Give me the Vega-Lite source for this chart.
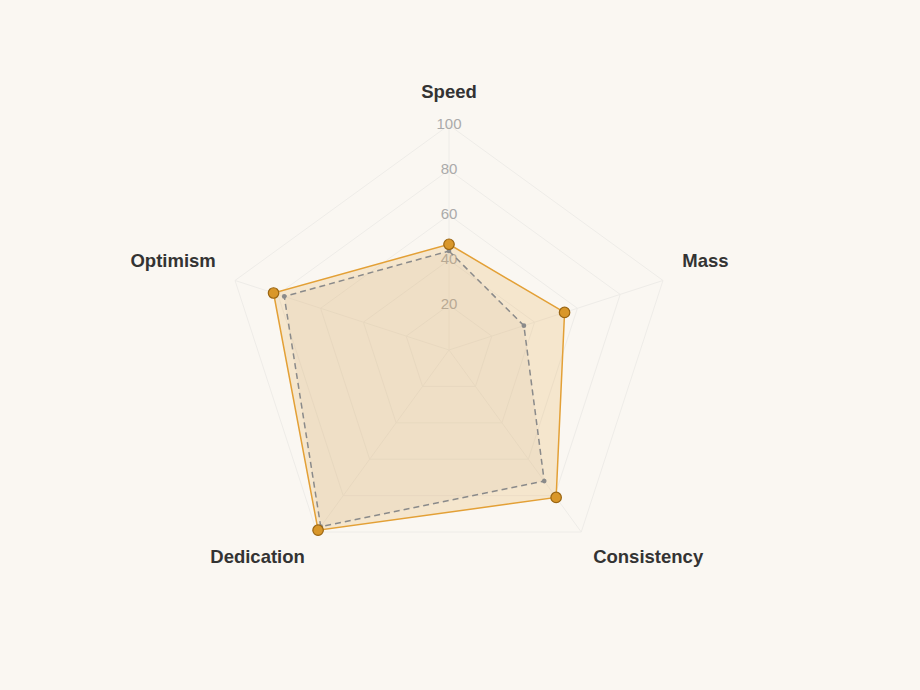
{
  "$schema": "https://vega.github.io/schema/vega-lite/v6.json",
  "width": 920,
  "height": 690,
  "autosize": "none",
  "padding": 0,
  "background": "#faf7f2",
  "config": {"view": {"stroke": null}, "font": "Liberation Sans"},
  "datasets": {
    "axes": [
      {"axis": "Speed", "order": 0},
      {"axis": "Mass", "order": 1},
      {"axis": "Consistency", "order": 2},
      {"axis": "Dedication", "order": 3},
      {"axis": "Optimism", "order": 4}
    ],
    "levels": [
      {"level": 20, "order": [0, 1, 2, 3, 4]},
      {"level": 40, "order": [0, 1, 2, 3, 4]},
      {"level": 60, "order": [0, 1, 2, 3, 4]},
      {"level": 80, "order": [0, 1, 2, 3, 4]},
      {"level": 100, "order": [0, 1, 2, 3, 4]}
    ],
    "scores": [
      {"series": "current", "axis": "Speed", "order": 0, "value": 47},
      {"series": "current", "axis": "Mass", "order": 1, "value": 54},
      {"series": "current", "axis": "Consistency", "order": 2, "value": 81},
      {"series": "current", "axis": "Dedication", "order": 3, "value": 99},
      {"series": "current", "axis": "Optimism", "order": 4, "value": 82},
      {"series": "baseline", "axis": "Speed", "order": 0, "value": 44},
      {"series": "baseline", "axis": "Mass", "order": 1, "value": 35},
      {"series": "baseline", "axis": "Consistency", "order": 2, "value": 72},
      {"series": "baseline", "axis": "Dedication", "order": 3, "value": 97},
      {"series": "baseline", "axis": "Optimism", "order": 4, "value": 77}
    ]
  },
  "resolve": {"scale": {"x": "shared", "y": "shared"}},
  "layer": [
    {
      "data": {"name": "levels"},
      "transform": [
        {"flatten": ["order"]},
        {"calculate": "datum.order * 2 * PI / 5", "as": "theta"},
        {"calculate": "datum.level * sin(datum.theta)", "as": "x"},
        {"calculate": "datum.level * cos(datum.theta)", "as": "y"}
      ],
      "mark": {"type": "line", "interpolate": "linear-closed", "stroke": "#eeece8", "strokeWidth": 1},
      "encoding": {
        "x": {"field": "x", "type": "quantitative", "scale": {"domain": [-199.56, 209.33], "nice": false, "zero": false}, "axis": null},
        "y": {"field": "y", "type": "quantitative", "scale": {"domain": [-151.11, 155.56], "nice": false, "zero": false}, "axis": null},
        "detail": {"field": "level"},
        "order": {"field": "order"}
      }
    },
    {
      "data": {"name": "axes"},
      "transform": [
        {"calculate": "datum.order * 2 * PI / 5", "as": "theta"},
        {"calculate": "100 * sin(datum.theta)", "as": "x"},
        {"calculate": "100 * cos(datum.theta)", "as": "y"}
      ],
      "mark": {"type": "rule", "stroke": "#eeece8", "strokeWidth": 1},
      "encoding": {
        "x": {"field": "x", "type": "quantitative"},
        "y": {"field": "y", "type": "quantitative"},
        "x2": {"datum": 0},
        "y2": {"datum": 0}
      }
    },
    {
      "data": {"name": "levels"},
      "mark": {"type": "text", "fontSize": 15, "fill": "#aaaaaa", "align": "center", "baseline": "middle", "dy": -1},
      "encoding": {
        "x": {"datum": 0, "type": "quantitative"},
        "y": {"field": "level", "type": "quantitative"},
        "text": {"field": "level"}
      }
    },
    {
      "data": {"name": "scores"},
      "transform": [
        {"calculate": "datum.order * 2 * PI / 5", "as": "theta"},
        {"calculate": "datum.value * sin(datum.theta)", "as": "x"},
        {"calculate": "datum.value * cos(datum.theta)", "as": "y"}
      ],
      "layer": [
        {
          "transform": [{"filter": "datum.series === 'current'"}],
          "mark": {"type": "line", "interpolate": "linear-closed", "stroke": "#e3a036", "strokeWidth": 1.5, "fill": "#e8b460", "fillOpacity": 0.25},
          "encoding": {
            "x": {"field": "x", "type": "quantitative"},
            "y": {"field": "y", "type": "quantitative"},
            "order": {"field": "order"}
          }
        },
        {
          "transform": [{"filter": "datum.series === 'baseline'"}],
          "mark": {"type": "line", "interpolate": "linear-closed", "stroke": "#8a8a8a", "strokeWidth": 1.5, "strokeDash": [6, 4], "fill": "#b09070", "fillOpacity": 0.07},
          "encoding": {
            "x": {"field": "x", "type": "quantitative"},
            "y": {"field": "y", "type": "quantitative"},
            "order": {"field": "order"}
          }
        },
        {
          "transform": [{"filter": "datum.series === 'baseline'"}],
          "mark": {"type": "circle", "size": 22, "fill": "#8a8a8a", "opacity": 1},
          "encoding": {
            "x": {"field": "x", "type": "quantitative"},
            "y": {"field": "y", "type": "quantitative"}
          }
        },
        {
          "transform": [{"filter": "datum.series === 'current'"}],
          "mark": {"type": "point", "filled": true, "shape": "circle", "size": 110, "fill": "#d9972a", "stroke": "#9a6512", "strokeWidth": 1.2, "opacity": 1},
          "encoding": {
            "x": {"field": "x", "type": "quantitative"},
            "y": {"field": "y", "type": "quantitative"}
          }
        }
      ]
    },
    {
      "data": {"name": "axes"},
      "transform": [
        {"calculate": "datum.order * 2 * PI / 5", "as": "theta"},
        {"calculate": "109 * sin(datum.theta)", "as": "x"},
        {"calculate": "109 * cos(datum.theta)", "as": "y"}
      ],
      "mark": {
        "type": "text",
        "fontSize": 18.5,
        "fontWeight": "bold",
        "fill": "#333333",
        "align": {"expr": "datum.x > 1 ? 'left' : (datum.x < -1 ? 'right' : 'center')"},
        "baseline": {"expr": "datum.y > 0 ? 'bottom' : 'top'"},
        "dy": {"expr": "datum.y > 0 ? -3 : 0"}
      },
      "encoding": {
        "x": {"field": "x", "type": "quantitative"},
        "y": {"field": "y", "type": "quantitative"},
        "text": {"field": "axis"}
      }
    }
  ]
}
